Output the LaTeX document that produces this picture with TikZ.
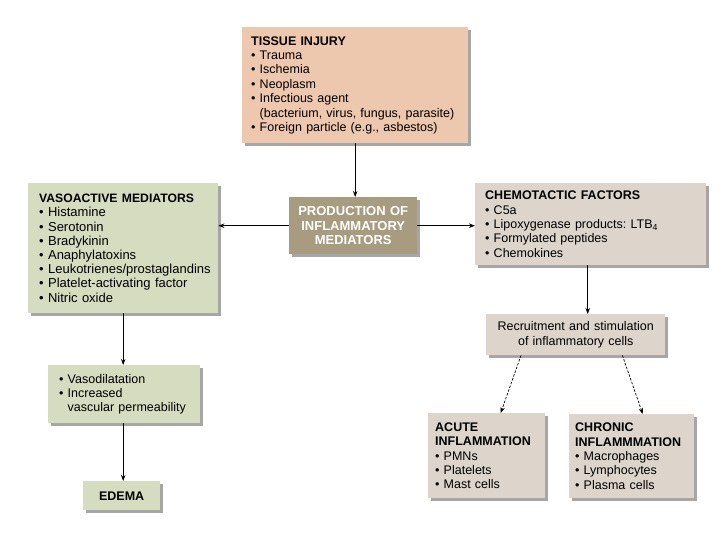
\documentclass[tikz,border=0pt]{standalone}
\usepackage{fontspec}
\setmainfont{Liberation Sans}
\usetikzlibrary{shadows,arrows.meta,calc}
\definecolor{salmon}{HTML}{EEC8AE}
\definecolor{sage}{HTML}{D6DCC0}
\definecolor{khaki}{HTML}{A79B80}
\definecolor{greige}{HTML}{DDD5CC}
\newcommand{\bli}[1]{\mbox{\textbullet\ #1}}
\newcommand{\cnt}[1]{\mbox{\phantom{\textbullet\ }#1}}
\frenchspacing
\tikzset{
  box/.style={anchor=north west, inner ysep=0pt, align=left,
    font=\fontsize{12.5}{14.4}\selectfont\frenchspacing,
    drop shadow={shadow xshift=2.5pt,shadow yshift=-2.5pt,opacity=0.35,fill=black}},
  cbox/.style={box, align=center},
  arr/.style={-{Stealth[length=6pt,width=4.5pt]}, line width=0.8pt},
  darr/.style={-{Stealth[length=6pt,width=4.5pt]}, line width=0.7pt, dash pattern=on 2.5pt off 1.5pt},
}
\begin{document}
\begin{tikzpicture}[x=1pt,y=-1pt]
\useasboundingbox[fill=white] (0,0) rectangle (720,540);

\node[box, fill=salmon, inner xsep=9pt, minimum width=226pt, minimum height=116pt, text width=208pt] (tissue) at (242,27)
 {\textbf{TISSUE INJURY}\\ \bli{Trauma}\\ \bli{Ischemia}\\ \bli{Neoplasm}\\ \bli{Infectious agent}\\ \cnt{(bacterium, virus, fungus, parasite)}\\ \bli{Foreign particle (e.g., asbestos)}};

\node[box, fill=sage, inner xsep=11pt, minimum width=190pt, minimum height=130pt, text width=168pt, font=\fontsize{13}{14.2}\selectfont\frenchspacing] (vaso) at (28,183)
 {{\fontsize{12.2}{14.2}\selectfont\textbf{VASOACTIVE MEDIATORS}}\\ \bli{Histamine}\\ \bli{Serotonin}\\ \bli{Bradykinin}\\ \bli{Anaphylatoxins}\\ \bli{Leukotrienes/prostaglandins}\\ \bli{Platelet-activating factor}\\ \bli{Nitric oxide}};

\node[cbox, fill=khaki, text=white, inner xsep=4pt, minimum width=128pt, minimum height=57pt, text width=120pt, font=\fontsize{13}{14.4}\selectfont] (prod) at (289,197)
 {\textbf{PRODUCTION OF}\\ \textbf{INFLAMMATORY}\\ \textbf{MEDIATORS}};

\node[box, fill=greige, inner xsep=10pt, minimum width=231pt, minimum height=82pt, text width=211pt] (chem) at (475,183)
 {\textbf{CHEMOTACTIC FACTORS}\\ \bli{C5a}\\ \bli{Lipoxygenase products: LTB\textsubscript{4}}\\ \bli{Formylated peptides}\\ \bli{Chemokines}};

\node[cbox, fill=greige, inner xsep=4pt, minimum width=179pt, minimum height=41pt, text width=171pt] (rec) at (486,314)
 {Recruitment and stimulation\\ of inflammatory cells};

\node[box, fill=sage, inner xsep=11pt, minimum width=152pt, minimum height=58pt, text width=130pt] (dil) at (48,365)
 {\bli{Vasodilatation}\\ \bli{Increased}\\ \cnt{vascular permeability}};

\node[cbox, fill=sage, inner xsep=4pt, minimum width=77pt, minimum height=29pt, text width=69pt] (edema) at (83,481)
 {\textbf{EDEMA}};

\node[box, fill=greige, inner xsep=7pt, minimum width=117pt, minimum height=85pt, text width=103pt] (acute) at (428,413)
 {\textbf{ACUTE}\\ \textbf{INFLAMMATION}\\ \bli{PMNs}\\ \bli{Platelets}\\ \bli{Mast cells}};

\node[box, fill=greige, inner xsep=6pt, minimum width=125pt, minimum height=84pt, text width=113pt] (chron) at (569,414)
 {\textbf{CHRONIC}\\ \textbf{INFLAMMMATION}\\ \bli{Macrophages}\\ \bli{Lymphocytes}\\ \bli{Plasma cells}};

\draw[arr] (tissue.south) -- (tissue.south |- prod.north);
\draw[arr] (prod.west) -- (prod.west -| vaso.east);
\draw[arr] (prod.east) -- (prod.east -| chem.west);
\draw[arr, line width=1.4pt] ([xshift=-3pt]chem.south) -- ([xshift=-3pt]chem.south |- rec.north);
\draw[darr] ([xshift=35pt]rec.south west) -- ([xshift=14pt]acute.north);
\draw[darr] ([xshift=-43pt]rec.south east) -- ([xshift=11pt]chron.north);
\draw[arr] (vaso.south) -- (vaso.south |- dil.north);
\draw[arr] (dil.south -| vaso.south) -- (vaso.south |- edema.north);
\end{tikzpicture}
\end{document}
